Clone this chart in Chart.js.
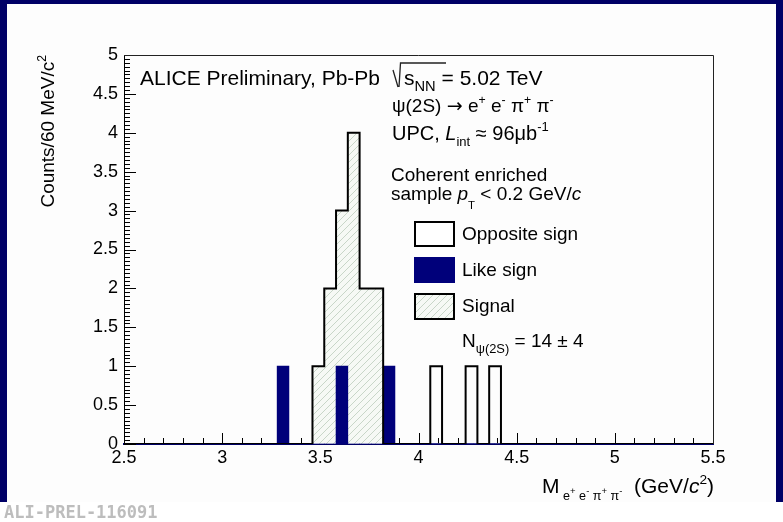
<!DOCTYPE html>
<html>
<head>
<meta charset="utf-8">
<script src="https://cdn.jsdelivr.net/npm/chart.js@4.4.1/dist/chart.umd.min.js"></script>
<style>
  html, body { margin: 0; padding: 0; background: #fff; }
  canvas { display: block; }
</style>
</head>
<body>
<canvas id="chart" width="783" height="522"></canvas>
<script>
// histogram binning: 60 MeV bins from 2.5 GeV
const binStart = 2.5;
const binWidth = 0.06;

// counts per bin (50 bins, 2.5 - 5.5)
const oppositeSign = [0,0,0,0,0,0,0,0,0,0, 0,0,0,0,0,0,1,2,3,4, 2,2,0,0,0,0,1,0,0,1, 0,1,0,0,0,0,0,0,0,0, 0,0,0,0,0,0,0,0,0,0];
const likeSign     = [0,0,0,0,0,0,0,0,0,0, 0,0,0,1,0,0,0,0,1,0, 0,0,1,0,0,0,0,0,0,0, 0,0,0,0,0,0,0,0,0,0, 0,0,0,0,0,0,0,0,0,0];
const signal       = [0,0,0,0,0,0,0,0,0,0, 0,0,0,0,0,0,1,2,3,4, 2,2,0,0,0,0,0,0,0,0, 0,0,0,0,0,0,0,0,0,0, 0,0,0,0,0,0,0,0,0,0];

const xRange = [2.5, 5.5];
const yRange = [0, 5];
const tickStep = 0.5;

const FONT = '"Liberation Sans", Arial, Helvetica, sans-serif';
const NAVY = '#00007a';

const edges = oppositeSign.map((_, i) => binStart + i * binWidth);
const asBars = arr => arr.map((v, i) => ({ x: edges[i] + binWidth / 2, y: v }));
const asSteps = arr => arr.map((v, i) => ({ x: edges[i], y: v })).concat([{ x: xRange[1], y: 0 }]);

const ctxMain = document.getElementById('chart').getContext('2d');

function makeHatch() {
    const c = document.createElement('canvas');
    c.width = 7; c.height = 7;
    const g = c.getContext('2d');
    g.fillStyle = '#f6f9f5';
    g.fillRect(0, 0, 7, 7);
    g.strokeStyle = '#c8d6c8';
    g.lineWidth = 1;
    g.beginPath();
    g.moveTo(0, 7); g.lineTo(7, 0);
    g.moveTo(-1, 1); g.lineTo(1, -1);
    g.moveTo(6, 8); g.lineTo(8, 6);
    g.stroke();
    return ctxMain.createPattern(c, 'repeat');
}
const hatch = makeHatch();

// draw a run of text pieces: [text, sizeFactor, dyFactor, italic, family]
function rich(ctx, x, y, size, runs, measureOnly) {
    let cx = x;
    for (const [t, sf = 1, dy = 0, it = false, fam = FONT] of runs) {
        ctx.font = (it ? 'italic ' : '') + (size * sf).toFixed(1) + 'px ' + fam;
        if (!measureOnly) ctx.fillText(t, cx, y + dy * size);
        cx += ctx.measureText(t).width;
    }
    return cx - x;
}

const frame = {
    id: 'frame',
    beforeDraw(chart) {
        const { ctx, width, height } = chart;
        ctx.save();
        ctx.fillStyle = '#000066';
        ctx.fillRect(0, 0, width, 502);
        ctx.fillStyle = '#fdfdfd';
        ctx.fillRect(7, 4, width - 14, 498);
        ctx.fillStyle = '#ffffff';
        ctx.fillRect(0, 502, width, height - 502);
        ctx.restore();
    },
    beforeDatasetsDraw(chart) {
        // ROOT style inward ticks
        const { ctx, chartArea: a, scales: { x, y } } = chart;
        ctx.save();
        ctx.strokeStyle = '#000';
        ctx.lineWidth = 1;
        ctx.beginPath();
        for (let i = 25; i <= 55; i++) {
            const px = Math.round(x.getPixelForValue(i / 10)) + 0.5;
            const len = i % 5 === 0 ? 11 : 6;
            ctx.moveTo(px, a.bottom); ctx.lineTo(px, a.bottom - len);
        }
        for (let i = 0; i <= 100; i++) {
            const py = Math.round(y.getPixelForValue(i / 20)) + 0.5;
            const len = i % 10 === 0 ? 12 : 6;
            ctx.moveTo(a.left, py); ctx.lineTo(a.left + len, py);
        }
        ctx.stroke();
        ctx.restore();
    },
    afterDraw(chart) {
        const { ctx, chartArea: a } = chart;
        ctx.save();
        ctx.strokeStyle = '#222';
        ctx.lineWidth = 1;
        ctx.beginPath();
        ctx.moveTo(a.left, a.top + 0.5); ctx.lineTo(a.right + 0.5, a.top + 0.5); ctx.lineTo(a.right + 0.5, a.bottom);
        ctx.stroke();

        ctx.fillStyle = '#000';
        ctx.textBaseline = 'alphabetic';
        ctx.textAlign = 'left';
        const S = 19;
        rich(ctx, 140, 85, 21, [['ALICE Preliminary, Pb-Pb']]);

        // broken sqrt sign as in the original
        ctx.beginPath();
        ctx.lineWidth = 1.3;
        ctx.moveTo(393, 70); ctx.lineTo(398, 87);
        ctx.moveTo(399, 87); ctx.lineTo(400.5, 63);
        ctx.lineTo(446, 63);
        ctx.stroke();
        rich(ctx, 404, 85, 21, [['s'], ['NN', 0.7, 0.3], [' = 5.02 TeV']]);

        rich(ctx, 392, 112, S, [['\u03c8(2S) '], ['\u2192', 1, 0, false, '"DejaVu Sans", sans-serif'], [' e'], ['+', 0.65, -0.4], [' e'], ['-', 0.65, -0.4], [' \u03c0'], ['+', 0.65, -0.4], [' \u03c0'], ['-', 0.65, -0.4]]);
        rich(ctx, 392, 140, 20, [['UPC, '], ['L', 1, 0, true], ['int', 0.65, 0.3], [' \u2248 96\u03bcb'], ['-1', 0.65, -0.45]]);
        rich(ctx, 391, 181, S, [['Coherent enriched']]);
        rich(ctx, 391, 200, S, [['sample '], ['p', 1, 0, true], ['T', 0.6, 0.45], [' < 0.2 GeV/'], ['c', 1, 0, true]]);

        // legend
        ctx.lineWidth = 2;
        ctx.fillStyle = '#fff';
        ctx.fillRect(415, 222, 39, 24);
        ctx.strokeStyle = '#000';
        ctx.strokeRect(415, 222, 39, 24);
        ctx.fillStyle = NAVY;
        ctx.fillRect(414, 257, 41, 26);
        ctx.fillStyle = hatch;
        ctx.fillRect(415, 294, 39, 25);
        ctx.strokeRect(415, 294, 39, 25);
        ctx.fillStyle = '#000';
        rich(ctx, 462, 240, S, [['Opposite sign']]);
        rich(ctx, 462, 276, S, [['Like sign']]);
        rich(ctx, 462, 312, S, [['Signal']]);
        rich(ctx, 462, 347, S, [['N'], ['\u03c8(2S)', 0.68, 0.32], [' = 14 \u00b1 4']]);

        // x title, right aligned at the axis end
        const xt = [['M'], [' e', 0.6, 0.32], ['+', 0.45, 0.05], [' e', 0.6, 0.32], ['-', 0.45, 0.05], [' \u03c0', 0.6, 0.32], ['+', 0.45, 0.05], [' \u03c0', 0.6, 0.32], ['-', 0.45, 0.05], ['  (GeV/'], ['c', 1, 0, true], ['2', 0.65, -0.42], [')']];
        const w = rich(ctx, 0, 0, 21, xt, true);
        rich(ctx, a.right + 1 - w, 493, 21, xt);

        // y title, rotated, right aligned at the top
        const yt = [['Counts/60 MeV/c'], ['2', 0.65, -0.42]];
        const wy = rich(ctx, 0, 0, 19, yt, true);
        ctx.translate(54, a.top + wy);
        ctx.rotate(-Math.PI / 2);
        rich(ctx, 0, 0, 19, yt);
        ctx.setTransform(1, 0, 0, 1, 0, 0);

        ctx.fillStyle = '#bdbdbd';
        ctx.font = 'bold 17px "DejaVu Sans Mono", monospace';
        ctx.fillText('ALI-PREL-116091', 4, 518);
        ctx.restore();
    }
};

new Chart(ctxMain, {
    type: 'bar',
    data: {
        datasets: [
            {
                type: 'line',
                label: 'Opposite sign',
                data: asSteps(oppositeSign),
                stepped: 'before',
                borderColor: '#000',
                borderWidth: 2,
                pointRadius: 0,
                fill: false,
                order: 0
            },
            {
                label: 'Like sign',
                data: asBars(likeSign),
                backgroundColor: NAVY,
                borderWidth: 0,
                grouped: false,
                barPercentage: 1,
                categoryPercentage: 1,
                order: 1
            },
            {
                label: 'Signal',
                data: asBars(signal),
                backgroundColor: hatch,
                borderWidth: 0,
                grouped: false,
                barPercentage: 1,
                categoryPercentage: 1,
                order: 2
            }
        ]
    },
    options: {
        responsive: false,
        animation: false,
        events: [],
        layout: { padding: { left: 0, top: 55, right: 70, bottom: 48 } },
        plugins: { legend: { display: false }, tooltip: { enabled: false } },
        scales: {
            x: {
                type: 'linear',
                min: xRange[0], max: xRange[1],
                offset: false,
                z: 1,
                grid: { display: false, drawTicks: false },
                border: { color: '#000066', width: 2 },
                ticks: {
                    stepSize: tickStep, padding: 3, color: '#000', maxRotation: 0, autoSkip: false,
                    font: { family: FONT, size: 18 },
                    callback: v => String(+v.toFixed(2))
                },
                afterFit: s => { s.height = 30; }
            },
            y: {
                min: yRange[0], max: yRange[1],
                grid: { display: false, drawTicks: false },
                border: { color: '#000', width: 1 },
                ticks: {
                    stepSize: tickStep, padding: 6, color: '#000',
                    font: { family: FONT, size: 18 },
                    callback: v => String(+v.toFixed(2))
                },
                afterFit: s => { s.width = 124; }
            }
        }
    },
    plugins: [frame]
});
</script>
</body>
</html>
